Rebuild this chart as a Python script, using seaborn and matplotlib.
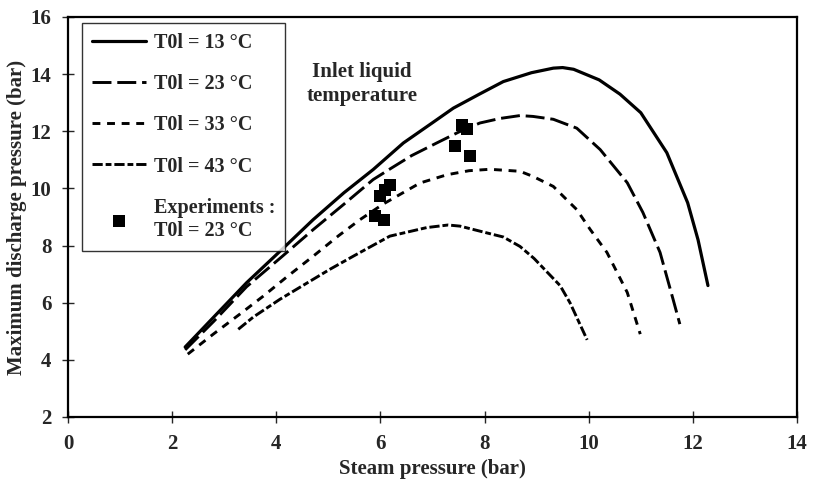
import matplotlib
matplotlib.use("Agg")
import matplotlib.pyplot as plt
import seaborn as sns
import pandas as pd

# ---- data ----
x_13 = [2.25, 2.8, 3.43, 4.1, 4.71, 5.3, 5.86, 6.44, 7.0, 7.4, 7.9, 8.36, 8.9, 9.32, 9.5, 9.71,
        10.2, 10.6, 11.0, 11.5, 11.9, 12.1, 12.29]
y_13 = [4.45, 5.5, 6.7, 7.85, 8.91, 9.85, 10.66, 11.59, 12.3, 12.81, 13.3, 13.74, 14.05, 14.21, 14.23, 14.17,
        13.8, 13.3, 12.65, 11.25, 9.5, 8.2, 6.6]

x_23 = [2.25, 2.8, 3.43, 4.1, 4.71, 5.3, 5.86, 6.2, 6.6, 7.08, 7.5, 7.91, 8.3, 8.68, 8.93, 9.32,
        9.77, 10.22, 10.74, 11.04, 11.37, 11.62, 11.75]
y_23 = [4.35, 5.35, 6.56, 7.6, 8.56, 9.45, 10.31, 10.7, 11.15, 11.59, 11.97, 12.29, 12.45, 12.55, 12.52, 12.42,
        12.11, 11.36, 10.2, 9.16, 7.76, 6.12, 5.25]

x_33 = [2.3, 2.79, 3.3, 3.75, 4.2, 4.71, 5.2, 5.61, 6.05, 6.76, 7.28, 7.7, 8.1, 8.68, 8.93, 9.32,
        9.58, 9.77, 10.03, 10.35, 10.74, 10.99]
y_33 = [4.2, 4.9, 5.6, 6.23, 6.9, 7.63, 8.35, 8.91, 9.45, 10.19, 10.48, 10.62, 10.67, 10.6, 10.42, 10.07,
        9.6, 9.26, 8.56, 7.76, 6.36, 4.9]

x_43 = [3.27, 3.56, 4.07, 4.6, 5.03, 5.5, 6.18, 6.89, 7.3, 7.53, 8.16, 8.36, 8.68, 8.95, 9.45, 9.64, 9.97]
y_43 = [5.07, 5.5, 6.12, 6.7, 7.17, 7.65, 8.33, 8.63, 8.72, 8.68, 8.39, 8.3, 7.97, 7.55, 6.6, 6.0, 4.7]

x_exp = [7.56, 7.67, 7.43, 7.72, 6.18, 6.09, 5.99, 5.90, 6.06]
y_exp = [12.23, 12.08, 11.47, 11.12, 10.13, 9.96, 9.73, 9.03, 8.89]

labels = ["T0l = 13 °C", "T0l = 23 °C", "T0l = 33 °C", "T0l = 43 °C"]
exp_label = "Experiments :\nT0l = 23 °C"
xticks = [0, 2, 4, 6, 8, 10, 12, 14]
yticks = [2, 4, 6, 8, 10, 12, 14, 16]

# ---- style ----
sns.set_theme(style="white")
plt.rcParams['font.family'] = ['Liberation Serif', 'DejaVu Serif']
plt.rcParams['font.weight'] = 'bold'

fig = plt.figure(figsize=(8.13, 4.84), dpi=100)
ax = fig.add_axes([68/813, 1-417/484, (797-68)/813, (417-17)/484])

styles = [
    dict(linestyle='-', lw=2.3),
    dict(linestyle=(0, (6.5, 2)), lw=2.1),
    dict(linestyle=(0, (2.7, 2.3)), lw=2.1),
    dict(linestyle=(0, (3.5, 1, 2, 1)), lw=2.1),
]
series = [(x_13, y_13), (x_23, y_23), (x_33, y_33), (x_43, y_43)]
for (xs, ys), lab, st in zip(series, labels, styles):
    df = pd.DataFrame({"x": xs, "y": ys})
    sns.lineplot(data=df, x="x", y="y", sort=False, estimator=None, color="black",
                 label=lab, ax=ax, **st)

dfe = pd.DataFrame({"x": x_exp, "y": y_exp})
sns.scatterplot(data=dfe, x="x", y="y", marker="s", s=80, color="black",
                edgecolor="black", linewidth=0, label=exp_label, ax=ax, zorder=5)

ax.set_xlim(0, 14)
ax.set_ylim(2, 16)
ax.set_xticks(xticks)
ax.set_yticks(yticks)
ax.tick_params(axis='both', direction='inout', length=8, width=1, labelsize=15,
               bottom=True, left=True, pad=8)
for lab in ax.get_xticklabels() + ax.get_yticklabels():
    lab.set_fontweight('bold')
for sp in ax.spines.values():
    sp.set_color('black')
    sp.set_linewidth(1.6)

ax.set_xlabel("Steam pressure (bar)", fontsize=15, fontweight='bold')
ax.set_ylabel("Maximum discharge pressure (bar)", fontsize=15, fontweight='bold')
ax.xaxis.set_label_coords(0.5, -0.105)
ax.yaxis.set_label_coords(-0.056, 0.5)

ax.text(5.65, 14.42, "Inlet liquid\ntemperature", ha='center', va='top', fontsize=15,
        fontweight='bold', linespacing=1.25)

leg = ax.legend(loc='upper left', bbox_to_anchor=(0.019, 0.985), borderaxespad=0,
                frameon=True, fancybox=False, edgecolor='black',
                handlelength=2.7, handletextpad=0.38, labelspacing=1.05, borderpad=0.5,
                prop={'weight': 'bold', 'size': 14.5})
leg.get_frame().set_linewidth(1.0)

fig.savefig("out.png", dpi=100)
